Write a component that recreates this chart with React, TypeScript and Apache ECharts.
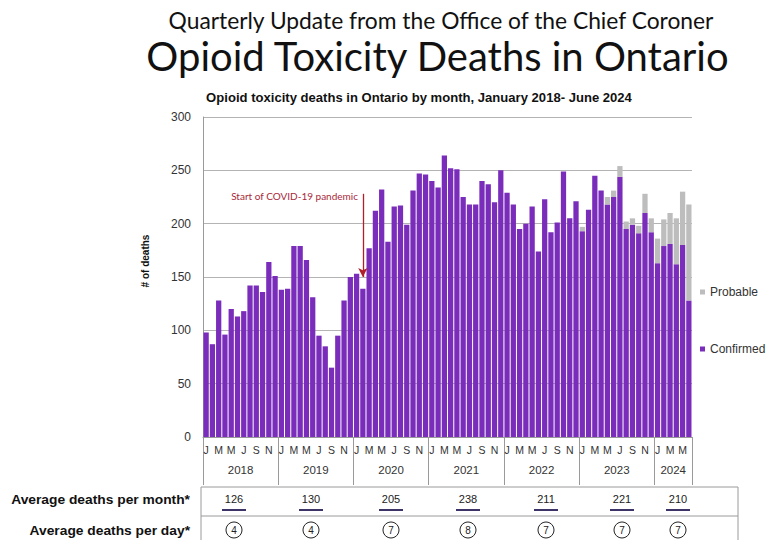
import React, { useEffect, useRef } from "react";
import * as echarts from "echarts";

// ---------- data ----------
const years = [2018, 2019, 2020, 2021, 2022, 2023, 2024];
const monthNames = ["Jan", "Feb", "Mar", "Apr", "May", "Jun", "Jul", "Aug", "Sep", "Oct", "Nov", "Dec"];
const monthLetters = ["J", "F", "M", "A", "M", "J", "J", "A", "S", "O", "N", "D"];
const yTicks = [0, 50, 100, 150, 200, 250, 300];

const confirmed2018 = [98, 87, 128, 96, 120, 113, 118, 142, 142, 136, 164, 151];
const confirmed2019 = [138, 139, 179, 179, 166, 131, 95, 85, 65, 95, 128, 150];
const confirmed2020 = [153, 139, 177, 212, 232, 183, 216, 217, 199, 231, 247, 246];
const confirmed2021 = [240, 234, 264, 252, 251, 225, 218, 218, 240, 237, 220, 250];
const confirmed2022 = [229, 218, 195, 200, 216, 174, 223, 192, 201, 249, 205, 221];
const confirmed2023 = [193, 213, 245, 231, 218, 225, 244, 195, 199, 191, 210, 192];
const confirmed2024 = [163, 179, 181, 162, 180, 128];

const probable2023 = [4, 0, 0, 0, 7, 6, 10, 7, 6, 7, 18, 13];
const probable2024 = [23, 25, 29, 43, 50, 90];

const avgPerMonth = [126, 130, 205, 238, 211, 221, 210];
const avgPerDay = [4, 4, 7, 8, 7, 7, 7];

const annotationText = "Start of COVID-19 pandemic";
const pandemicMonth = "Feb 2020";

// ---------- derived ----------
const confirmed = [
  ...confirmed2018, ...confirmed2019, ...confirmed2020, ...confirmed2021,
  ...confirmed2022, ...confirmed2023, ...confirmed2024,
];
const probable = [
  ...new Array(confirmed.length - probable2023.length - probable2024.length).fill(0),
  ...probable2023, ...probable2024,
];
const categories: string[] = [];
years.forEach((y) => {
  const n = y === 2024 ? confirmed2024.length : 12;
  for (let m = 0; m < n; m++) categories.push(`${monthNames[m]} ${y}`);
});
const yearStarts: number[] = [];
const yearCentres: number[] = [];
{
  let s = 0;
  years.forEach((y) => {
    const n = y === 2024 ? confirmed2024.length : 12;
    yearStarts.push(s);
    yearCentres.push(s + n / 2);
    s += n;
  });
  yearStarts.push(s);
}

// ---------- layout constants ----------
const FONT = "'Liberation Sans', Arial, sans-serif";
const TITLE_FONT = "Lato, 'Open Sans', sans-serif";
const colX = [234, 311, 391, 468, 546, 622, 678];

const txt = (text: string, x: number, y: number, style: any, extra: any = {}) => ({
  type: "text",
  x,
  y,
  ...extra,
  style: {
    text,
    fontFamily: FONT,
    fill: "#111",
    align: "center",
    verticalAlign: "middle",
    textAlign: "center",
    textVerticalAlign: "middle",
    ...style,
    ...(style.align ? { textAlign: style.align } : {}),
  },
});

export default function App() {
  const ref = useRef<HTMLDivElement>(null);
  useEffect(() => {
    if (!ref.current) return;
    const chart = echarts.init(ref.current, undefined, { renderer: "svg" });
    const graphics: any[] = [
      txt("Quarterly Update from the Office of the Chief Coroner", 441, 20, { fontSize: 22.8, lineHeight: 24, fontFamily: TITLE_FONT }),
      txt("Opioid Toxicity Deaths in Ontario", 437.5, 56, { fontSize: 40, lineHeight: 40, fontFamily: TITLE_FONT }),
      txt("Opioid toxicity deaths in Ontario by month, January 2018- June 2024", 419, 98,
        { fontSize: 12, fontWeight: "bold" }, { scaleX: 1.09 }),
      txt(annotationText, 358, 196, { fontSize: 10, fontFamily: TITLE_FONT, fill: "#A8283A", align: "right" }),
      txt("# of deaths", 145, 261, { fontSize: 10, fontWeight: "bold" }, { rotation: Math.PI / 2 }),
      {
        type: "rect", shape: { x: 201, y: 487, width: 537, height: 70 },
        style: { fill: "none", stroke: "#9a9a9a", lineWidth: 1 },
      },
      {
        type: "line", shape: { x1: 201, y1: 516, x2: 738, y2: 516 },
        style: { stroke: "#9a9a9a", lineWidth: 1 },
      },
      txt("Average deaths per month*", 190, 500, { fontSize: 12, fontWeight: "bold", align: "right" }, { scaleX: 1.15 }),
      txt("Average deaths per day*", 190, 531, { fontSize: 12, fontWeight: "bold", align: "right" }, { scaleX: 1.15 }),
    ];
    avgPerMonth.forEach((v, i) => {
      graphics.push(txt(String(v), colX[i], 499, { fontSize: 11, fill: "#222" }));
      graphics.push({
        type: "line", shape: { x1: colX[i] - 12, y1: 510, x2: colX[i] + 12, y2: 510 },
        style: { stroke: "#3d3366", lineWidth: 2 },
      });
    });
    avgPerDay.forEach((v, i) => {
      graphics.push({
        type: "circle", shape: { cx: colX[i], cy: 530, r: 8 },
        style: { fill: "none", stroke: "#222", lineWidth: 1 },
      });
      graphics.push(txt(String(v), colX[i], 530, { fontSize: 10, fill: "#222" }));
    });

    chart.setOption({
      animation: false,
      backgroundColor: "#ffffff",
      graphic: graphics,
      legend: {
        data: ["Probable", "Confirmed"],
        orient: "vertical",
        left: 695,
        top: 281,
        itemGap: 45,
        itemWidth: 5,
        itemHeight: 5,
        icon: "rect",
        textStyle: { fontSize: 12, fontFamily: FONT, color: "#333" },
      },
      grid: { left: 203, right: 74, top: 117, bottom: 103, outerBoundsMode: "none", containLabel: false },
      xAxis: [
        {
          type: "category",
          data: categories,
          axisLine: { show: true, lineStyle: { color: "#9a9a9a" } },
          axisTick: { show: false },
          axisLabel: {
            interval: 1,
            margin: 7,
            fontSize: 10.5,
            fontFamily: FONT,
            color: "#333",
            formatter: (v: string) => monthLetters[monthNames.indexOf(v.slice(0, 3))],
          },
        },
        {
          type: "value",
          position: "bottom",
          min: 0,
          max: yearStarts[yearStarts.length - 1],
          axisLine: { show: false },
          splitLine: { show: false },
          axisTick: { show: true, customValues: yearStarts, length: 48, lineStyle: { color: "#9a9a9a" } },
          axisLabel: {
            customValues: yearCentres,
            margin: 27,
            fontSize: 11.5,
            fontFamily: FONT,
            color: "#333",
            formatter: (v: number) => {
              const i = yearCentres.indexOf(v);
              return i >= 0 ? String(years[i]) : "";
            },
          },
        },
      ],
      yAxis: {
        type: "value",
        min: yTicks[0],
        max: yTicks[yTicks.length - 1],
        interval: 50,
        axisLine: { show: true, lineStyle: { color: "#9a9a9a" } },
        axisTick: { show: false },
        axisLabel: { fontSize: 12, fontFamily: FONT, color: "#333", margin: 12 },
        splitLine: { lineStyle: { color: "#b4b4b4" } },
      },
      series: [
        {
          name: "Confirmed",
          type: "bar",
          stack: "total",
          data: confirmed,
          barCategoryGap: "16%",
          itemStyle: { color: "#7A2DBB" },
          markLine: {
            silent: true,
            symbol: ["none", "arrow"],
            symbolSize: [7, 9],
            label: { show: false },
            lineStyle: { color: "#B0202A", width: 1.3, type: "solid" },
            data: [[{ coord: [pandemicMonth, 228] }, { coord: [pandemicMonth, 150] }]],
          },
        },
        {
          name: "Probable",
          type: "bar",
          stack: "total",
          data: probable,
          barCategoryGap: "16%",
          itemStyle: { color: "#BDBDBD" },
        },
      ],
    });
    return () => chart.dispose();
  }, []);
  return (
    <div
      ref={ref}
      style={{ position: "fixed", left: 0, top: 0, width: 766, height: 540, background: "#fff" }}
    />
  );
}
